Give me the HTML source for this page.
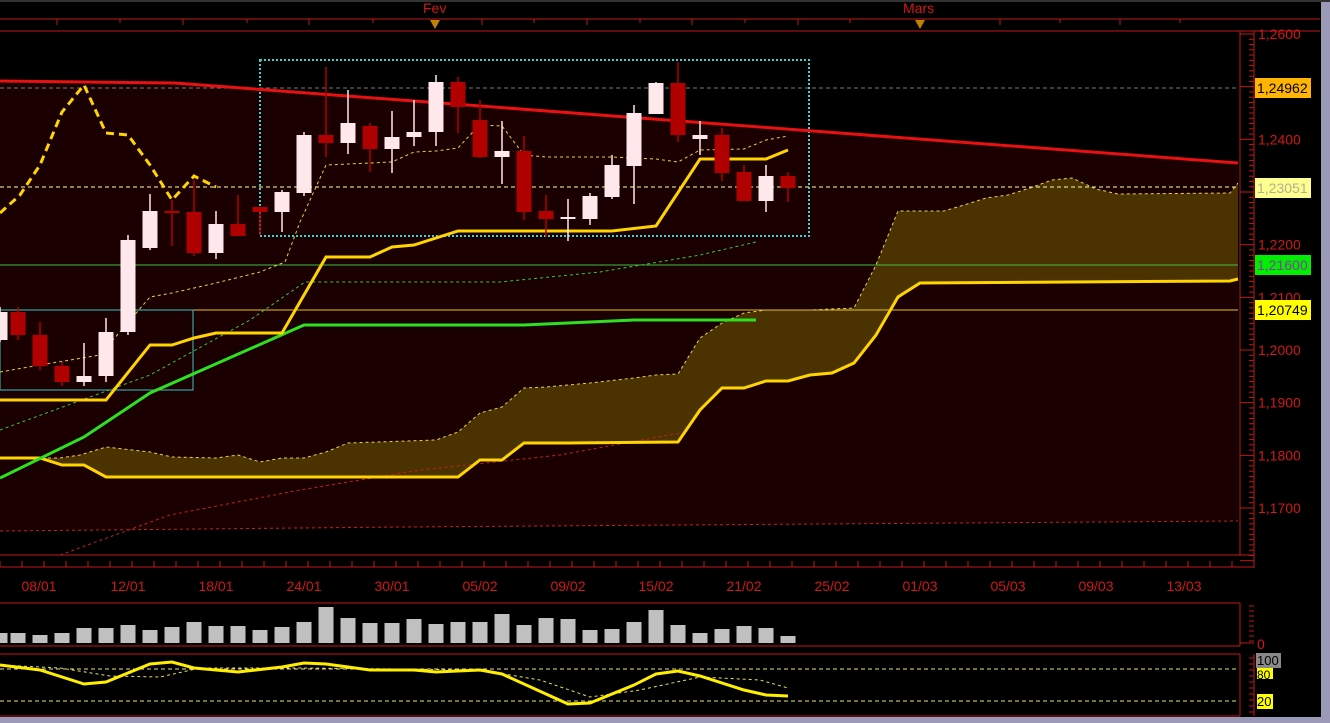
<!DOCTYPE html>
<html><head><meta charset="utf-8"><style>
html,body{margin:0;padding:0;background:#000;width:1330px;height:723px;overflow:hidden}
svg{display:block;font-family:"Liberation Sans",sans-serif}
</style></head><body>
<svg id="s" width="1330" height="723" xmlns="http://www.w3.org/2000/svg">
<rect width="1330" height="723" fill="#000"/>
<polygon points="0,81 175,83 1238,163 1238,521 0,531" fill="#1a0000"/>
<rect x="0" y="531" width="1238" height="24" fill="#000"/>
<line x1="0" y1="88" x2="1238" y2="88" stroke="#777" stroke-dasharray="4,3"/>
<polygon fill="#4a3300" points="0,458 60,458 80,455 106,447 150,452 172,457 216,458 238,455 260,462 282,458 304,458 326,452 348,443 436,440 458,432 480,413 502,407 524,388 546,387 590,383 634,378 656,375 678,374 700,338 722,323 744,313 766,310 810,310 854,308 876,265 898,211 944,211 964,205 986,198 1008,195 1030,188 1052,180 1072,178 1096,189 1118,194 1230,193 1238,183 1238,280 1230,281 920,283 898,297 876,335 854,363 832,373 810,375 788,381 766,381 744,388 722,388 700,410 678,442 568,443 524,443 502,460 480,460 458,477 106,477 84,465 62,465 40,458"/>
<polyline fill="none" stroke="#e8d060" stroke-width="1" stroke-dasharray="3,3" points="0,458 60,458 80,455 106,447 150,452 172,457 216,458 238,455 260,462 282,458 304,458 326,452 348,443 436,440 458,432 480,413 502,407 524,388 546,387 590,383 634,378 656,375 678,374 700,338 722,323 744,313 766,310 810,310 854,308 876,265 898,211 944,211 964,205 986,198 1008,195 1030,188 1052,180 1072,178 1096,189 1118,194 1230,193 1238,183"/>
<line x1="0" y1="187" x2="1238" y2="187" stroke="#ffffa0" stroke-dasharray="4,3"/>
<line x1="0" y1="265" x2="1238" y2="265" stroke="#40c040"/>
<line x1="0" y1="310" x2="1238" y2="310" stroke="#e8c020"/>
<polyline fill="none" stroke="#c02020" stroke-dasharray="3,3" points="0,531 400,527 1238,521"/>
<polyline fill="none" stroke="#c02020" stroke-dasharray="3,3" points="60,555 170,515 300,490 420,470 560,455 680,433"/>
<polyline fill="none" stroke="#40c040" stroke-dasharray="3,3" points="0,430 150,375 250,320 305,282 500,282 600,272 700,255 756,242"/>
<polyline fill="none" stroke="#e8d040" stroke-dasharray="3,3" points="0,372 40,365 100,355 150,297 172,293 216,283 260,272 285,262 300,222 326,165 348,164 370,163 392,162 414,152 436,151 458,148 470,135 480,125 502,126 524,155 546,157 612,157 656,159 678,162 700,150 744,149 766,140 788,136"/>
<rect x="260" y="60" width="549" height="176" fill="none" stroke="#40d0d0" stroke-width="2" stroke-dasharray="2,2"/>
<rect x="0" y="310" width="193" height="80" fill="none" stroke="#40c0c0" stroke-width="1"/>
<polyline fill="none" stroke="#ffd400" stroke-width="3" points="0,458 40,458 62,465 84,465 106,477 458,477 480,460 502,460 524,443 568,443 678,442 700,410 722,388 744,388 766,381 788,381 810,375 832,373 854,363 876,335 898,297 920,283 1230,281 1238,279"/>
<polyline fill="none" stroke="#30e020" stroke-width="3" points="0,478 84,437 150,393 304,325 524,325 634,320 756,320"/>
<polyline fill="none" stroke="#ffd400" stroke-width="3" points="0,400 106,400 150,345 172,345 194,338 216,333 282,333 304,295 326,257 370,257 392,247 414,245 458,231 612,231 656,226 700,159 766,159 788,150"/>
<polyline fill="none" stroke="#ffd400" stroke-width="3" stroke-dasharray="8,5" points="0,213 20,195 40,165 62,112 84,85 106,133 128,135 150,165 172,200 194,176 216,187"/>
<polyline fill="none" stroke="#e81010" stroke-width="3" points="0,81 175,83 1238,163"/>
<g id="candles"></g>
<g id="axes" stroke="#c01818" fill="none"></g>
<g id="txt" fill="#d01818" font-size="14"></g>
<rect x="1255" y="78" width="56" height="20" fill="#ffb400"/><text x="1257" y="93" font-size="14" fill="#000">1,24962</text>
<rect x="1255" y="178" width="56" height="20" fill="#ffff90"/><text x="1257" y="193" font-size="14" fill="#b0b090">1,23051</text>
<rect x="1255" y="255" width="56" height="20" fill="#00ee00"/><text x="1257" y="270" font-size="14" fill="#8040a0">1,21600</text>
<rect x="1255" y="300" width="56" height="20" fill="#ffff00"/><text x="1257" y="315" font-size="14" fill="#000">1,20749</text>
<line x1="0" y1="669" x2="1238" y2="669" stroke="#e8e080" stroke-dasharray="4,3"/>
<line x1="0" y1="701" x2="1238" y2="701" stroke="#e8e080" stroke-dasharray="4,3"/>
<polyline fill="none" stroke="#e8e060" stroke-dasharray="3,3" points="0,665 60,668 110,676 160,677 200,668 300,668 400,669 480,670 540,680 590,697 640,690 700,677 760,680 788,688"/>
<polyline fill="none" stroke="#ffee00" stroke-width="3" points="0,665 40,670 84,684 106,682 150,664 172,662 194,668 238,672 282,667 304,663 326,664 370,670 414,670 436,672 480,670 502,674 546,694 568,704 590,703 634,685 656,674 678,671 700,676 744,690 766,695 788,696"/>
<rect x="1256" y="653" width="25" height="15" fill="#888"/><text x="1257" y="665" font-size="13" fill="#000">100</text>
<rect x="1257" y="668" width="16" height="11" fill="#ffff00"/><text x="1257" y="679" font-size="12" fill="#000">80</text>
<rect x="1257" y="694" width="16" height="15" fill="#ffff00"/><text x="1257" y="706" font-size="13" fill="#000">20</text>
<rect x="1321" y="0" width="9" height="723" fill="#9a9ab8"/>
<rect x="0" y="717" width="1330" height="6" fill="#9a9ab8"/>
<rect x="0" y="0" width="1330" height="2" fill="#333"/>
</svg>
<script>
var NS="http://www.w3.org/2000/svg";
function el(p,t,a){var e=document.createElementNS(NS,t);for(var k in a)e.setAttribute(k,a[k]);p.appendChild(e);return e;}
var C=[[0,312,340,307,342,'w'],[18,312,335,307,340,'r'],[40,335,366,322,370,'r'],[62,366,382,362,386,'r'],[84,376,382,343,386,'w'],[106,332,376,318,382,'w'],[128,240,332,235,335,'w'],[150,211,248,194,250,'w'],[172,211,213,200,246,'r'],[194,212,253,180,256,'r'],[216,224,253,211,259,'w'],[238,224,236,195,236,'r'],[260,207,212,207,235,'r'],[282,192,212,190,232,'w'],[304,135,193,132,196,'w'],[326,135,143,67,157,'r'],[348,123,143,90,154,'w'],[370,126,149,123,172,'r'],[392,137,149,111,173,'w'],[414,132,137,100,146,'w'],[436,82,132,75,146,'w'],[458,82,107,77,133,'r'],[480,120,157,100,158,'r'],[502,151,157,121,184,'w'],[524,151,212,136,220,'r'],[546,211,219,195,237,'r'],[568,217,219,199,241,'w'],[590,196,219,193,225,'w'],[612,165,197,155,199,'w'],[634,113,166,105,204,'w'],[656,83,114,82,114,'w'],[678,83,135,62,142,'r'],[700,135,139,121,155,'w'],[722,135,173,128,181,'r'],[744,172,201,165,201,'r'],[766,176,201,165,212,'w'],[788,176,188,172,202,'r']];
var g=document.getElementById('candles');
C.forEach(function(c){var col=c[5]=='w'?'#ffe8ec':'#b00000';
el(g,'line',{x1:c[0],x2:c[0],y1:c[3],y2:c[4],stroke:col,'stroke-width':1.5});
el(g,'rect',{x:c[0]-7.5,y:c[1],width:15,height:Math.max(2,c[2]-c[1]),fill:col});});
var V=[[0,633],[18,633],[40,635],[62,633],[84,628],[106,628],[128,625],[150,630],[172,627],[194,622],[216,626],[238,626],[260,630],[282,627],[304,622],[326,607],[348,618],[370,623],[392,623],[414,619],[436,624],[458,622],[480,622],[502,614],[524,625],[546,618],[568,619],[590,630],[612,629],[634,622],[656,610],[678,625],[700,633],[722,629],[744,626],[766,628],[788,636]];
V.forEach(function(v){el(g,'rect',{x:v[0]-7.5,y:v[1],width:15,height:643-v[1],fill:'#c0c0c0'});});
var a=document.getElementById('axes'),t=document.getElementById('txt');
el(a,'line',{x1:0,x2:1320,y1:19,y2:19});el(a,'line',{x1:0,x2:1320,y1:31,y2:31});
[57,120,183,247,309,373,482,534,587,640,692,745,798,850,1000,1060,1120,1180].forEach(function(x,i){el(a,'line',{x1:x,x2:x,y1:19,y2:i%2?23:25});});
el(t,'text',{x:423,y:13}).textContent='Fev';el(t,'text',{x:903,y:13}).textContent='Mars';
[435,920].forEach(function(x){el(g,'polygon',{points:(x-5)+',20 '+(x+5)+',20 '+x+',29',fill:'#c08000'});});
el(a,'line',{x1:1240,x2:1240,y1:31,y2:555});el(a,'line',{x1:1254,x2:1254,y1:31,y2:568});
el(a,'line',{x1:0,x2:1254,y1:555,y2:555});el(a,'line',{x1:0,x2:1254,y1:567,y2:567});
for(var p=1.262;p>1.160;p-=0.001){var y=34+(1.26-p)*5267;if(y<32||y>567)continue;var maj=Math.abs(Math.round(p*100)-p*100)<1e-4;el(a,'line',{x1:maj?1240:1249,x2:1254,y1:y,y2:y});}
[[1.26,'1,2600'],[1.24,'1,2400'],[1.22,'1,2200'],[1.21,'1,2100'],[1.20,'1,2000'],[1.19,'1,1900'],[1.18,'1,1800'],[1.17,'1,1700']].forEach(function(l){el(t,'text',{x:1258,y:34+(1.26-l[0])*5267+5}).textContent=l[1];});
for(var x=0;x<1240;x+=22){var maj=((x-40)%88==0);el(a,'line',{x1:x,x2:x,y1:maj?555:561,y2:567});}
[[39,'08/01'],[128,'12/01'],[216,'18/01'],[304,'24/01'],[392,'30/01'],[480,'05/02'],[568,'09/02'],[656,'15/02'],[744,'21/02'],[832,'25/02'],[920,'01/03'],[1008,'05/03'],[1096,'09/03'],[1184,'13/03']].forEach(function(d){el(t,'text',{x:d[0],y:591,'text-anchor':'middle'}).textContent=d[1];});
el(a,'line',{x1:0,x2:1240,y1:603,y2:603});el(a,'line',{x1:0,x2:1240,y1:646,y2:646});el(a,'line',{x1:1240,x2:1240,y1:603,y2:646});
for(var y=606;y<=644;y+=5)el(a,'line',{x1:1249,x2:1254,y1:y,y2:y});el(a,'line',{x1:1240,x2:1254,y1:643,y2:643});
el(t,'text',{x:1257,y:649}).textContent='0';
el(a,'line',{x1:0,x2:1240,y1:654,y2:654});el(a,'line',{x1:0,x2:1240,y1:716,y2:716});el(a,'line',{x1:1240,x2:1240,y1:654,y2:716});el(a,'line',{x1:1254,x2:1254,y1:654,y2:716});
for(var y=658;y<=714;y+=6)el(a,'line',{x1:1249,x2:1254,y1:y,y2:y});
</script>
</body></html>
